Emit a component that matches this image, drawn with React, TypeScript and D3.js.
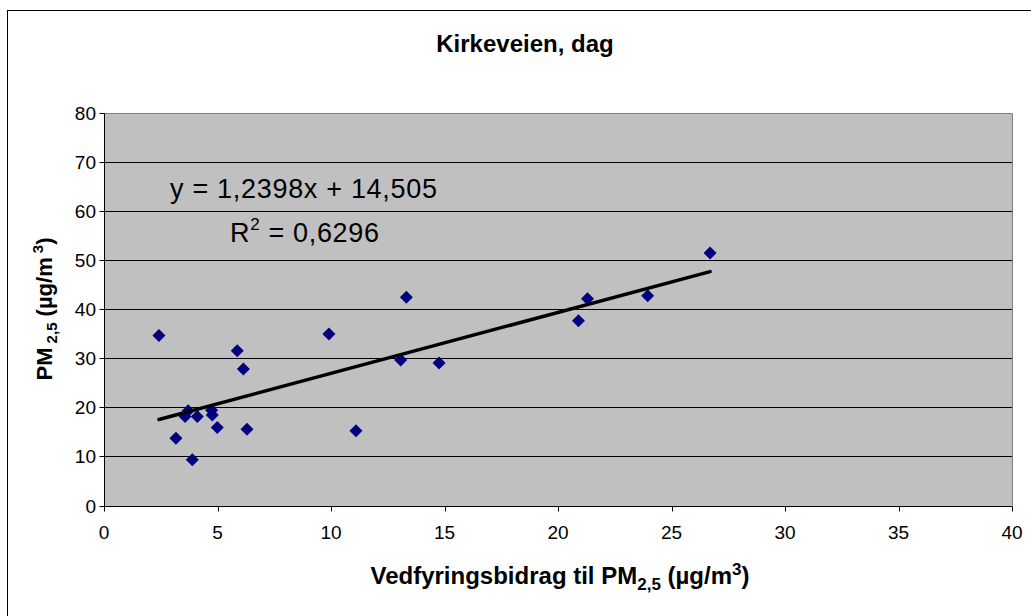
import * as d3 from "d3";

const woodSmoke = [2.42, 3.17, 3.57, 3.71, 3.89, 4.11, 4.74, 4.77, 4.99, 5.87, 6.14, 6.3, 9.91, 11.1, 13.07, 13.32, 14.76, 20.9, 21.3, 23.95, 26.7];
const pm25 = [34.6, 13.7, 18.1, 19.3, 9.3, 18.1, 19.4, 18.4, 15.9, 31.5, 27.8, 15.5, 34.9, 15.2, 29.6, 42.4, 29.0, 37.6, 42.1, 42.7, 51.4];
const xTicks = [0, 5, 10, 15, 20, 25, 30, 35, 40];
const yTicks = [0, 10, 20, 30, 40, 50, 60, 70, 80];
const slope = 1.2398;
const intercept = 14.505;

const W = 1031;
const H = 616;
const font = "'Liberation Sans', Arial, sans-serif";

export default function App() {
  const x = d3.scaleLinear().domain([0, 40]).range([104, 1012]);
  const y = d3.scaleLinear().domain([0, 80]).range([505.5, 112.5]);

  const points = woodSmoke.map((v, i) => [v, pm25[i]] as [number, number]);
  const xMin = d3.min(woodSmoke) ?? 0;
  const xMax = d3.max(woodSmoke) ?? 40;
  const trend = d3
    .line<number>()
    .x((d) => x(d))
    .y((d) => y(slope * d + intercept))([xMin, xMax]);

  const diamond = (cx: number, cy: number, r = 6.5) =>
    `M${cx},${cy - r}L${cx + r},${cy}L${cx},${cy + r}L${cx - r},${cy}Z`;

  const [left, right] = x.range();
  const [bottom, top] = y.range();
  const px = (v: number) => Math.round(v) + 0.5;

  return (
    <div style={{ position: "absolute", left: 0, top: 0, width: W, height: H, overflow: "hidden", background: "#fff" }}>
      <svg width={W} height={H} style={{ display: "block" }} fontFamily={font}>
        {/* outer chart border, runs off the right and bottom */}
        <rect x={7.5} y={10.5} width={1100} height={700} fill="#fff" stroke="#000" />

        <text x={525} y={52} textAnchor="middle" fontWeight="bold" fontSize={24}>
          Kirkeveien, dag
        </text>

        {/* plot area */}
        <rect x={left} y={px(top)} width={right - left} height={bottom - top} fill="#c0c0c0" stroke="none" />
        <line x1={left} x2={right + 0.5} y1={px(top)} y2={px(top)} stroke="#808080" />
        <line x1={px(right)} x2={px(right)} y1={px(top)} y2={bottom} stroke="#808080" />

        {yTicks.slice(1, -1).map((t) => (
          <line key={t} x1={left} x2={right} y1={px(y(t))} y2={px(y(t))} stroke="#000" />
        ))}

        {/* axes */}
        <line x1={px(left)} x2={px(left)} y1={px(top)} y2={px(bottom)} stroke="#000" />
        <line x1={px(left)} x2={px(right)} y1={px(bottom)} y2={px(bottom)} stroke="#000" />

        {yTicks.map((t) => (
          <g key={t}>
            <line x1={px(left) - 5} x2={px(left)} y1={px(y(t))} y2={px(y(t))} stroke="#000" />
            <text x={96} y={y(t) + 7} textAnchor="end" fontSize={19}>
              {t}
            </text>
          </g>
        ))}
        {xTicks.map((t) => (
          <g key={t}>
            <line x1={px(x(t))} x2={px(x(t))} y1={px(bottom)} y2={px(bottom) + 5} stroke="#000" />
            <text x={x(t)} y={539} textAnchor="middle" fontSize={19}>
              {t}
            </text>
          </g>
        ))}

        {points.map(([a, b], i) => (
          <path key={i} d={diamond(x(a), y(b))} fill="#000080" />
        ))}

        <path d={trend ?? ""} fill="none" stroke="#000" strokeWidth={3.5} strokeLinecap="round" />

        <text x={170} y={198} fontSize={27} textLength={267} lengthAdjust="spacing">
          y = 1,2398x + 14,505
        </text>
        <text x={230} y={242} fontSize={27} textLength={149} lengthAdjust="spacing">
          R<tspan dy={-12} fontSize={17}>2</tspan>
          <tspan dy={12}> = 0,6296</tspan>
        </text>

        <text x={560} y={584} textAnchor="middle" fontWeight="bold" fontSize={24}>
          Vedfyringsbidrag til PM
          <tspan dy={6} fontSize={17}>2,5</tspan>
          <tspan dy={-6}> (µg/m</tspan>
          <tspan dy={-9} fontSize={17}>3</tspan>
          <tspan dy={9}>)</tspan>
        </text>

        <text
          transform={`translate(52,${(top + bottom) / 2}) rotate(-90)`}
          textAnchor="middle"
          fontWeight="bold"
          fontSize={22}
        >
          PM
          <tspan dy={5} fontSize={15}> 2,5</tspan>
          <tspan dy={-5}> (µg/m</tspan>
          <tspan dy={-9} fontSize={15}> 3</tspan>
          <tspan dy={9}>)</tspan>
        </text>
      </svg>
    </div>
  );
}
